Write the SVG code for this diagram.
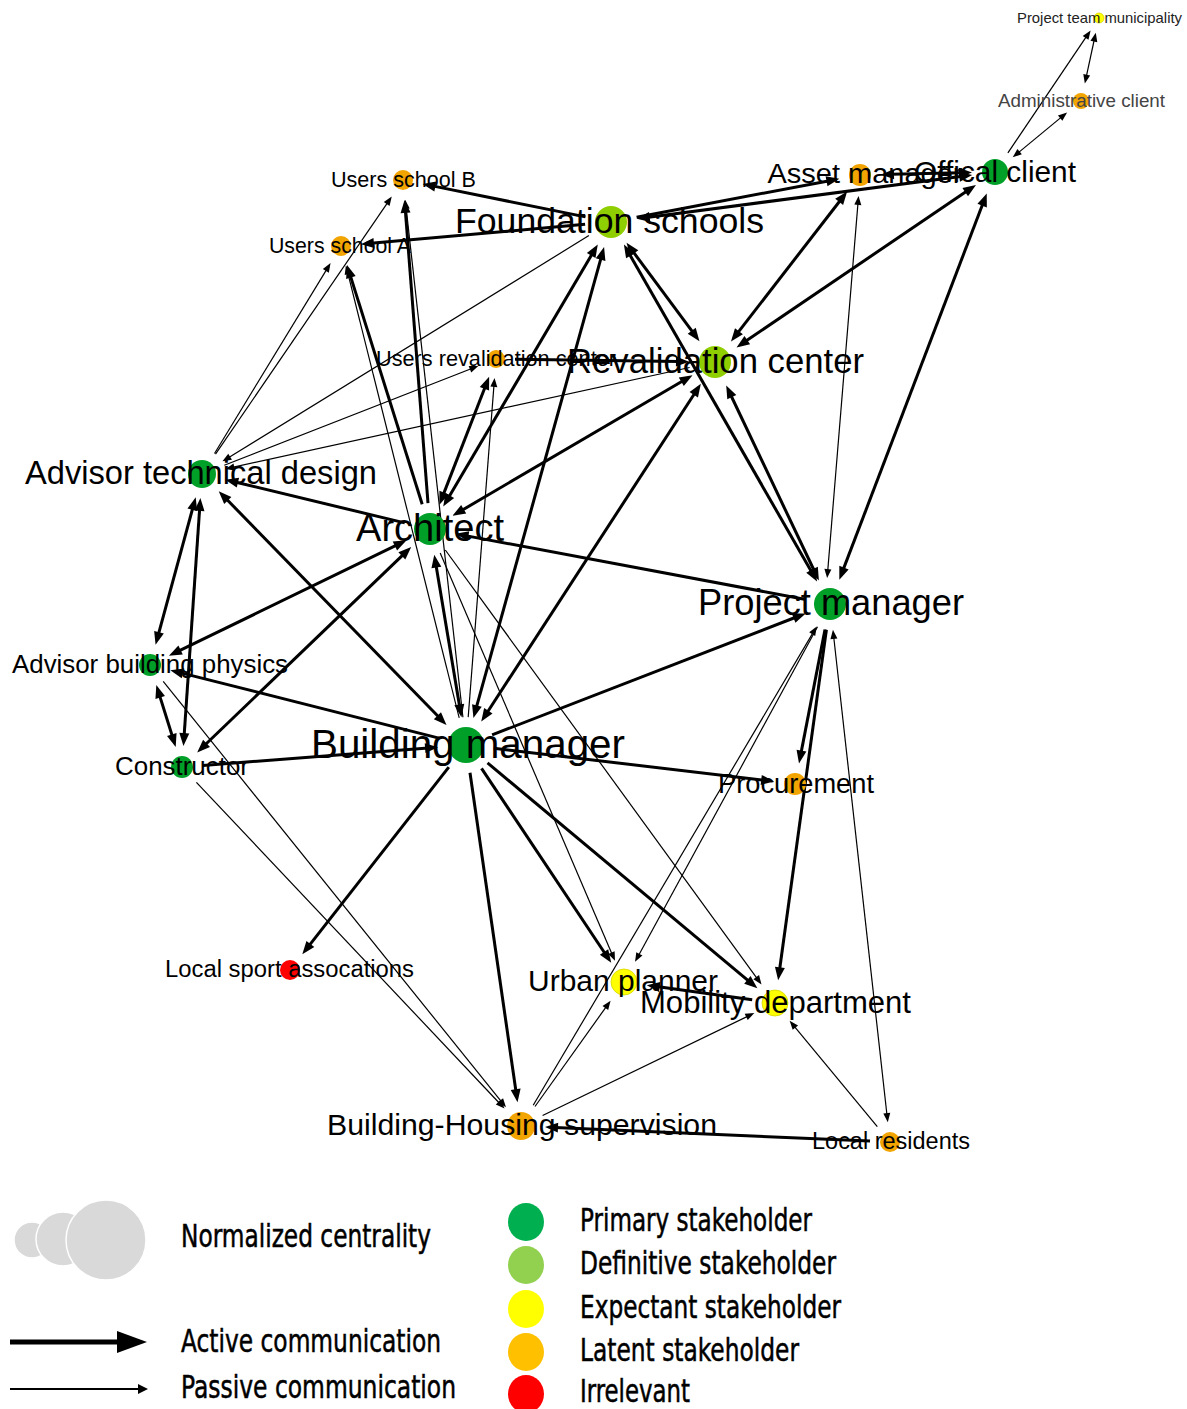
<svg xmlns="http://www.w3.org/2000/svg" width="1187" height="1409" viewBox="0 0 1187 1409">
  <style>
    .T { stroke: #000; stroke-width: 3; fill: none; }
    .t { stroke: #000; stroke-width: 1.2; fill: none; }
    .lbl { font-family: "Liberation Sans", Arial, sans-serif; text-anchor: middle; fill: #000; }
    .leg { font-family: "Liberation Sans Narrow", "DejaVu Sans Condensed", "Liberation Sans", sans-serif; font-stretch: condensed; font-size: 32px; fill: #000; stroke: #000; stroke-width: 0.5; }
    .primary { fill: #00a028; }
    .definitive { fill: #8fce00; }
    .expectant { fill: #ffff00; stroke: #d6d600; stroke-width: 0.8; }
    .latent { fill: #f2a400; }
    .irrelevant { fill: #ff0000; }
  </style>
  <defs>
    <marker id="aT" markerUnits="userSpaceOnUse" markerWidth="14" markerHeight="12" refX="3" refY="0" orient="auto-start-reverse" overflow="visible">
      <path d="M0,-5 L13,0 L0,5 Z" fill="#000"/>
    </marker>
    <marker id="at" markerUnits="userSpaceOnUse" markerWidth="10" markerHeight="8" refX="2" refY="0" orient="auto-start-reverse" overflow="visible">
      <path d="M0,-3.5 L9,0 L0,3.5 Z" fill="#000"/>
    </marker>
  </defs>

  <rect width="1187" height="1409" fill="#fff"/>

  <!-- communication links: .T active, .t passive -->
  <g id="edges">
    <line class="t" x1="1007.9" y1="152.9" x2="1086.7" y2="36.2" marker-end="url(#at)"/>
    <line class="t" x1="1086.3" y1="76.6" x2="1094.3" y2="39.5" marker-start="url(#at)" marker-end="url(#at)"/>
    <line class="t" x1="1018.1" y1="152.9" x2="1061.7" y2="116.9" marker-start="url(#at)" marker-end="url(#at)"/>
    <line class="T" x1="891" y1="174.3" x2="962" y2="172.7" marker-start="url(#aT)" marker-end="url(#aT)"/>
    <line class="T" x1="636.6" y1="217.2" x2="829.5" y2="180.7" marker-end="url(#aT)"/>
    <line class="T" x1="646.7" y1="217.4" x2="962.3" y2="176.3" marker-start="url(#aT)" marker-end="url(#aT)"/>
    <line class="T" x1="585.5" y1="216.9" x2="432.4" y2="185.9" marker-end="url(#aT)"/>
    <line class="T" x1="585.1" y1="224.3" x2="370.9" y2="243.3" marker-end="url(#aT)"/>
    <line class="t" x1="214.5" y1="453.5" x2="326.9" y2="269.1" marker-end="url(#at)"/>
    <line class="t" x1="215.5" y1="454.2" x2="387.8" y2="202.3" marker-end="url(#at)"/>
    <line class="T" x1="428.0" y1="503.1" x2="405.3" y2="209.9" marker-end="url(#aT)"/>
    <line class="t" x1="462.9" y1="717.2" x2="406.0" y2="206.8" marker-end="url(#at)"/>
    <line class="T" x1="422.2" y1="504.2" x2="350.0" y2="274.6" marker-end="url(#aT)"/>
    <line class="t" x1="459.2" y1="717.8" x2="347.6" y2="272.2" marker-end="url(#at)"/>
    <line class="t" x1="588.9" y1="235.6" x2="228.4" y2="457.7" marker-end="url(#at)"/>
    <line class="t" x1="689.6" y1="367.5" x2="232.3" y2="467.4" marker-end="url(#at)"/>
    <line class="t" x1="224.3" y1="465.3" x2="471.8" y2="368.5" marker-end="url(#at)"/>
    <line class="T" x1="404.7" y1="522.9" x2="235.0" y2="482.0" marker-end="url(#aT)"/>
    <line class="T" x1="225.7" y1="498.3" x2="439.5" y2="717.8" marker-start="url(#aT)" marker-end="url(#aT)"/>
    <line class="T" x1="193.1" y1="506.8" x2="158.2" y2="635.1" marker-start="url(#aT)" marker-end="url(#aT)"/>
    <line class="T" x1="199.7" y1="507.9" x2="184.1" y2="736.1" marker-start="url(#aT)" marker-end="url(#aT)"/>
    <line class="T" x1="159.3" y1="694.6" x2="172.7" y2="737.4" marker-start="url(#aT)" marker-end="url(#aT)"/>
    <line class="T" x1="397.6" y1="544.7" x2="177.9" y2="651.4" marker-start="url(#aT)" marker-end="url(#aT)"/>
    <line class="T" x1="404.0" y1="553.9" x2="204.4" y2="745.5" marker-start="url(#aT)" marker-end="url(#aT)"/>
    <line class="T" x1="438.9" y1="738.1" x2="180.0" y2="672.6" marker-end="url(#aT)"/>
    <line class="T" x1="202.9" y1="765.4" x2="428.1" y2="747.9" marker-end="url(#aT)"/>
    <line class="t" x1="163.2" y1="681.4" x2="501.6" y2="1101.9" marker-end="url(#at)"/>
    <line class="t" x1="196.4" y1="782.3" x2="499.7" y2="1103.5" marker-end="url(#at)"/>
    <line class="T" x1="632.5" y1="250.9" x2="693.5" y2="333.1" marker-start="url(#aT)" marker-end="url(#aT)"/>
    <line class="T" x1="628.9" y1="253.2" x2="812.1" y2="572.8" marker-start="url(#aT)" marker-end="url(#aT)"/>
    <line class="T" x1="730.5" y1="394.5" x2="814.6" y2="571.5" marker-start="url(#aT)" marker-end="url(#aT)"/>
    <line class="T" x1="841.0" y1="199.5" x2="737.1" y2="333.6" marker-start="url(#aT)" marker-end="url(#aT)"/>
    <line class="T" x1="967.7" y1="190.5" x2="744.8" y2="341.8" marker-start="url(#aT)" marker-end="url(#aT)"/>
    <line class="T" x1="515" y1="359.3" x2="679" y2="361.5" marker-end="url(#aT)"/>
    <line class="T" x1="461.1" y1="510.8" x2="683.9" y2="380.2" marker-start="url(#aT)" marker-end="url(#aT)"/>
    <line class="T" x1="486.7" y1="713.2" x2="695.4" y2="392.2" marker-start="url(#aT)" marker-end="url(#aT)"/>
    <line class="T" x1="443.0" y1="495.4" x2="485.5" y2="386.0" marker-start="url(#aT)" marker-end="url(#aT)"/>
    <line class="t" x1="468.2" y1="717.1" x2="494.0" y2="384.9" marker-end="url(#at)"/>
    <line class="T" x1="592.7" y1="253.0" x2="448.3" y2="498.0" marker-start="url(#aT)" marker-end="url(#aT)"/>
    <line class="T" x1="601.4" y1="256.7" x2="476.1" y2="708.4" marker-start="url(#aT)" marker-end="url(#aT)"/>
    <line class="T" x1="804.4" y1="599.2" x2="465.4" y2="535.6" marker-end="url(#aT)"/>
    <line class="T" x1="435.9" y1="564.5" x2="459.8" y2="707.5" marker-start="url(#aT)" marker-end="url(#aT)"/>
    <line class="T" x1="492.1" y1="734.9" x2="796.4" y2="617.0" marker-end="url(#aT)"/>
    <line class="T" x1="493.8" y1="748.3" x2="764.2" y2="780.3" marker-end="url(#aT)"/>
    <line class="T" x1="825.0" y1="629.5" x2="800.9" y2="753.6" marker-end="url(#aT)"/>
    <line class="T" x1="448.8" y1="767.1" x2="308.5" y2="946.4" marker-end="url(#aT)"/>
    <line class="T" x1="470.0" y1="772.7" x2="516.1" y2="1092.3" marker-end="url(#aT)"/>
    <line class="T" x1="481.5" y1="768.3" x2="605.7" y2="954.5" marker-end="url(#aT)"/>
    <line class="T" x1="487.5" y1="762.9" x2="749.7" y2="981.8" marker-end="url(#aT)"/>
    <line class="t" x1="440.2" y1="552.9" x2="612.2" y2="954.4" marker-end="url(#at)"/>
    <line class="t" x1="445.3" y1="550.0" x2="757.4" y2="978.8" marker-end="url(#at)"/>
    <line class="T" x1="826.4" y1="629.8" x2="779.5" y2="970.3" marker-end="url(#aT)"/>
    <line class="t" x1="817.5" y1="626.8" x2="638.4" y2="955.7" marker-end="url(#at)"/>
    <line class="t" x1="533.2" y1="1105.3" x2="813.2" y2="632.4" marker-end="url(#at)"/>
    <line class="t" x1="535.0" y1="1106.5" x2="606.5" y2="1006.4" marker-end="url(#at)"/>
    <line class="t" x1="542.6" y1="1115.5" x2="748.0" y2="1016.1" marker-end="url(#at)"/>
    <line class="t" x1="833.7" y1="636.8" x2="887.0" y2="1115.2" marker-start="url(#at)" marker-end="url(#at)"/>
    <line class="t" x1="858.0" y1="202.9" x2="827.7" y2="571.1" marker-start="url(#at)" marker-end="url(#at)"/>
    <line class="T" x1="983.2" y1="202.8" x2="842.9" y2="570.4" marker-start="url(#aT)" marker-end="url(#aT)"/>
    <line class="t" x1="877.3" y1="1126.6" x2="794.1" y2="1026.1" marker-end="url(#at)"/>
    <line class="T" x1="870.0" y1="1141.1" x2="555.0" y2="1127.5" marker-end="url(#aT)"/>
    <line class="T" x1="752.2" y1="999.8" x2="656.7" y2="986.6" marker-end="url(#aT)"/>
  </g>

  <!-- stakeholders -->
  <g id="n-project-team-municipality">
    <circle class="expectant" cx="1099" cy="18" r="5"/>
    <text class="lbl" x="1099.5" y="22.6" font-size="14.8" textLength="165" lengthAdjust="spacingAndGlyphs" style="fill:#222">Project team municipality</text>
  </g>
  <g id="n-administrative-client">
    <circle class="latent" cx="1081" cy="101" r="8"/>
    <text class="lbl" x="1081.5" y="107" font-size="18.8" textLength="167" lengthAdjust="spacingAndGlyphs" style="fill:#444">Administrative client</text>
  </g>
  <g id="n-offical-client">
    <circle class="primary" cx="995" cy="172" r="13"/>
    <text class="lbl" x="995" y="181.5" font-size="29.5" textLength="162" lengthAdjust="spacingAndGlyphs">Offical client</text>
  </g>
  <g id="n-asset-manager">
    <circle class="latent" cx="860" cy="175" r="11"/>
    <text class="lbl" x="865" y="183" font-size="27" textLength="195" lengthAdjust="spacingAndGlyphs">Asset manager</text>
  </g>
  <g id="n-foundation-schools">
    <circle class="definitive" cx="611" cy="222" r="16"/>
    <text class="lbl" x="609.5" y="233" font-size="35.6" textLength="309" lengthAdjust="spacingAndGlyphs">Foundation schools</text>
  </g>
  <g id="n-users-school-b">
    <circle class="latent" cx="403" cy="180" r="10"/>
    <text class="lbl" x="403.5" y="186.7" font-size="21.5" textLength="145" lengthAdjust="spacingAndGlyphs">Users school B</text>
  </g>
  <g id="n-users-school-a">
    <circle class="latent" cx="341" cy="246" r="10"/>
    <text class="lbl" x="340" y="252.7" font-size="21.5" textLength="142" lengthAdjust="spacingAndGlyphs">Users school A</text>
  </g>
  <g id="n-users-revalidation-center">
    <circle class="latent" cx="496" cy="359" r="9"/>
    <text class="lbl" x="496" y="365.7" font-size="21.5" textLength="240" lengthAdjust="spacingAndGlyphs">Users revalidation center</text>
  </g>
  <g id="n-revalidation-center">
    <circle class="definitive" cx="715" cy="362" r="16"/>
    <text class="lbl" x="715.5" y="372.8" font-size="34.7" textLength="297" lengthAdjust="spacingAndGlyphs">Revalidation center</text>
  </g>
  <g id="n-advisor-technical-design">
    <circle class="primary" cx="202" cy="474" r="14"/>
    <text class="lbl" x="201" y="484.1" font-size="32.6" textLength="352" lengthAdjust="spacingAndGlyphs">Advisor technical design</text>
  </g>
  <g id="n-architect">
    <circle class="primary" cx="430" cy="529" r="16"/>
    <text class="lbl" x="430" y="540.8" font-size="38" textLength="148" lengthAdjust="spacingAndGlyphs">Architect</text>
  </g>
  <g id="n-project-manager">
    <circle class="primary" cx="830" cy="604" r="16"/>
    <text class="lbl" x="831" y="615.2" font-size="36.3" textLength="266" lengthAdjust="spacingAndGlyphs">Project manager</text>
  </g>
  <g id="n-advisor-building-physics">
    <circle class="primary" cx="150" cy="665" r="11"/>
    <text class="lbl" x="150" y="673" font-size="25.9" textLength="276" lengthAdjust="spacingAndGlyphs">Advisor building physics</text>
  </g>
  <g id="n-constructor">
    <circle class="primary" cx="182" cy="767" r="11"/>
    <text class="lbl" x="182" y="775" font-size="25.9" textLength="134" lengthAdjust="spacingAndGlyphs">Constructor</text>
  </g>
  <g id="n-building-manager">
    <circle class="primary" cx="466" cy="745" r="18"/>
    <text class="lbl" x="468" y="757.5" font-size="40.4" textLength="314" lengthAdjust="spacingAndGlyphs">Building manager</text>
  </g>
  <g id="n-procurement">
    <circle class="latent" cx="795" cy="784" r="11"/>
    <text class="lbl" x="796" y="792.5" font-size="27.3" textLength="156" lengthAdjust="spacingAndGlyphs">Procurement</text>
  </g>
  <g id="n-local-sport-assocations">
    <circle class="irrelevant" cx="290" cy="970" r="10"/>
    <text class="lbl" x="289.5" y="977.1" font-size="23" textLength="249" lengthAdjust="spacingAndGlyphs">Local sport assocations</text>
  </g>
  <g id="n-urban-planner">
    <circle class="expectant" cx="624" cy="982" r="13"/>
    <text class="lbl" x="623" y="991.3" font-size="30" textLength="190" lengthAdjust="spacingAndGlyphs">Urban planner</text>
  </g>
  <g id="n-mobility-department">
    <circle class="expectant" cx="775" cy="1003" r="13"/>
    <text class="lbl" x="775.5" y="1012.6" font-size="31" textLength="271" lengthAdjust="spacingAndGlyphs">Mobility department</text>
  </g>
  <g id="n-building-housing-supervision">
    <circle class="latent" cx="521" cy="1126" r="14"/>
    <text class="lbl" x="522" y="1135.4" font-size="30.2" textLength="390" lengthAdjust="spacingAndGlyphs">Building-Housing supervision</text>
  </g>
  <g id="n-local-residents">
    <circle class="latent" cx="890" cy="1142" r="10"/>
    <text class="lbl" x="891" y="1149.3" font-size="23.5" textLength="158" lengthAdjust="spacingAndGlyphs">Local residents</text>
  </g>

  <!-- legend -->
  <g id="legend">
    <g fill="#d9d9d9" stroke="#fff" stroke-width="1.5">
      <circle cx="32" cy="1240" r="18"/>
      <circle cx="63" cy="1239" r="27"/>
      <circle cx="106" cy="1240" r="40"/>
    </g>
    <text class="leg" x="181" y="1247" textLength="250" lengthAdjust="spacingAndGlyphs">Normalized centrality</text>

    <line x1="10" y1="1342" x2="120" y2="1342" stroke="#000" stroke-width="5"/>
    <path d="M117,1331 L147,1342 L117,1353 Z" fill="#000"/>
    <text class="leg" x="181" y="1352" textLength="260" lengthAdjust="spacingAndGlyphs">Active communication</text>

    <line x1="10" y1="1389" x2="140" y2="1389" stroke="#000" stroke-width="2"/>
    <path d="M138,1384 L148,1389 L138,1394 Z" fill="#000"/>
    <text class="leg" x="181" y="1398" textLength="275" lengthAdjust="spacingAndGlyphs">Passive communication</text>

    <ellipse cx="526" cy="1222" rx="18" ry="19" fill="#00b050"/>
    <ellipse cx="526" cy="1265" rx="18" ry="19" fill="#92d050"/>
    <ellipse cx="526" cy="1309" rx="18" ry="19" fill="#ffff00"/>
    <ellipse cx="526" cy="1352" rx="18" ry="19" fill="#ffc000"/>
    <ellipse cx="526" cy="1394" rx="18" ry="19" fill="#ff0000"/>
    <text class="leg" x="580" y="1231" textLength="232" lengthAdjust="spacingAndGlyphs">Primary stakeholder</text>
    <text class="leg" x="580" y="1274" textLength="256" lengthAdjust="spacingAndGlyphs">Definitive stakeholder</text>
    <text class="leg" x="580" y="1318" textLength="261" lengthAdjust="spacingAndGlyphs">Expectant stakeholder</text>
    <text class="leg" x="580" y="1361" textLength="219" lengthAdjust="spacingAndGlyphs">Latent stakeholder</text>
    <text class="leg" x="580" y="1402" textLength="110" lengthAdjust="spacingAndGlyphs">Irrelevant</text>
  </g>
</svg>
